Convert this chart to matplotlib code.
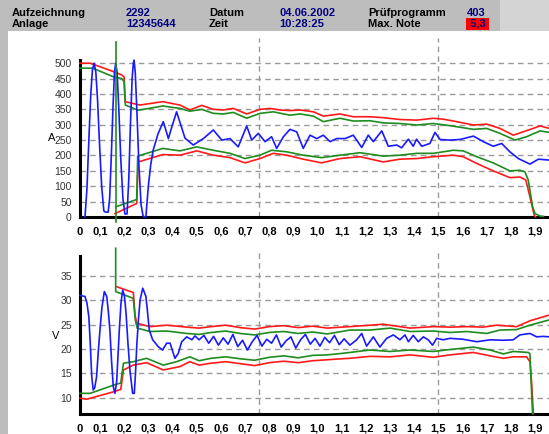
import matplotlib.pyplot as plt
from matplotlib.patches import Rectangle

plt.rcParams['font.family'] = ['Liberation Sans', 'DejaVu Sans']

# Kopfzeile
head_keys = [['Aufzeichnung', 'Anlage'], ['Datum', 'Zeit'], ['Prüfprogramm', 'Max. Note']]
head_vals = [['2292', '12345644'], ['04.06.2002', '10:28:25'], ['403', '5,3']]

# Strom (A)
a_blue_x = [0.038, 0.046, 0.054, 0.062, 0.069, 0.076, 0.083, 0.09, 0.098, 0.107, 0.116, 0.122, 0.134,
            0.14, 0.147, 0.154, 0.16, 0.165, 0.171, 0.178, 0.186, 0.195, 0.203, 0.212, 0.219, 0.226,
            0.233, 0.238, 0.241, 0.246, 0.253, 0.261, 0.27, 0.278, 0.282, 0.29, 0.3, 0.31, 0.32, 0.34,
            0.362, 0.383, 0.4, 0.417, 0.43, 0.452, 0.486, 0.528, 0.569, 0.604, 0.638, 0.672, 0.707,
            0.728, 0.755, 0.783, 0.81, 0.831, 0.859, 0.886, 0.914, 0.941, 0.969, 0.997, 1.024, 1.052,
            1.079, 1.114, 1.148, 1.183, 1.21, 1.231, 1.266, 1.293, 1.328, 1.348, 1.376, 1.396, 1.41,
            1.431, 1.465, 1.486, 1.507, 1.548, 1.589, 1.645, 1.686, 1.727, 1.762, 1.796, 1.831, 1.879,
            1.914, 1.96]
a_blue_y = [0, 90, 250, 400, 480, 500, 470, 380, 240, 100, 20, 16, 16,
            60, 200, 360, 470, 500, 470, 350, 190, 60, 10, 10, 120, 300,
            450, 500, 510, 470, 340, 170, 40, 5, 0, 0, 100, 170, 217, 270,
            310, 255, 300, 342, 310, 256, 234, 255, 283, 250, 255, 228, 296,
            250, 272, 245, 261, 223, 261, 285, 277, 223, 266, 255, 266, 245,
            255, 255, 266, 226, 266, 245, 280, 230, 234, 225, 253, 230, 253,
            230, 239, 275, 252, 250, 252, 263, 245, 230, 239, 212, 190, 172,
            188, 185]

a_red_hi_x = [0.017, 0.06, 0.155, 0.19, 0.2, 0.204, 0.265, 0.36, 0.431, 0.472, 0.521, 0.569, 0.61,
              0.652, 0.707, 0.762, 0.803, 0.845, 0.886, 0.928, 0.983, 1.024, 1.093, 1.148, 1.217,
              1.272, 1.341, 1.41, 1.479, 1.521, 1.576, 1.645, 1.7, 1.755, 1.81, 1.851, 1.921, 1.96]
a_red_hi_y = [500, 500, 473, 462, 455, 375, 364, 375, 364, 348, 363, 350, 348,
              353, 335, 350, 353, 348, 346, 348, 342, 328, 335, 326, 326,
              323, 317, 315, 321, 318, 310, 299, 302, 288, 266, 277, 296, 288]

a_green_hi_x = [0.017, 0.07, 0.155, 0.19, 0.2, 0.205, 0.258, 0.36, 0.431, 0.472, 0.521, 0.569, 0.61,
                0.652, 0.707, 0.762, 0.817, 0.886, 0.928, 0.983, 1.024, 1.093, 1.148, 1.217, 1.272,
                1.341, 1.41, 1.479, 1.548, 1.645, 1.7, 1.755, 1.817, 1.865, 1.921, 1.96]
a_green_hi_y = [484, 484, 456, 450, 440, 364, 347, 361, 353, 344, 350, 337, 335,
                340, 321, 337, 342, 331, 335, 328, 310, 321, 312, 313, 306,
                304, 299, 304, 297, 285, 288, 272, 250, 261, 280, 275]

a_green_lo_x = [0.165, 0.252, 0.256, 0.36, 0.431, 0.5, 0.569, 0.638, 0.7, 0.762, 0.81, 0.872, 0.941,
                1.017, 1.093, 1.176, 1.272, 1.341, 1.41, 1.479, 1.562, 1.603, 1.659, 1.727, 1.796,
                1.838, 1.858, 1.872, 1.89, 1.9, 1.921, 1.935]
a_green_lo_y = [33, 57, 198, 223, 215, 228, 217, 207, 190, 201, 217, 212, 201,
                193, 201, 209, 198, 201, 207, 207, 217, 215, 196, 176, 150,
                152, 147, 120, 33, 11, 3, 2]

a_red_lo_x = [0.162, 0.252, 0.258, 0.36, 0.431, 0.5, 0.569, 0.638, 0.7, 0.762, 0.817, 0.872, 0.941,
              1.017, 1.093, 1.176, 1.272, 1.341, 1.41, 1.479, 1.562, 1.603, 1.659, 1.727, 1.796,
              1.838, 1.862, 1.879, 1.897, 1.902]
a_red_lo_y = [11, 44, 179, 203, 201, 215, 201, 193, 176, 190, 207, 201, 188,
              176, 190, 196, 179, 188, 190, 196, 201, 196, 174, 150, 128,
              130, 120, 65, 5, 0]

a_trig_x = [0.165, 0.165]
a_trig_y = [-15, 569]

# Spannung (V)
v_blue_x = [0.018, 0.038, 0.046, 0.054, 0.06, 0.066, 0.072, 0.078, 0.086, 0.093, 0.1, 0.108, 0.118,
            0.128, 0.135, 0.141, 0.148, 0.155, 0.162, 0.169, 0.175, 0.18, 0.187, 0.194, 0.201, 0.208,
            0.216, 0.224, 0.235, 0.242, 0.247, 0.252, 0.259, 0.266, 0.277, 0.29, 0.297, 0.304, 0.318,
            0.341, 0.359, 0.376, 0.39, 0.41, 0.424, 0.438, 0.459, 0.48, 0.493,
            0.51, 0.53, 0.55, 0.57, 0.59, 0.61, 0.63, 0.65, 0.67, 0.69, 0.71, 0.73, 0.75, 0.77, 0.79,
            0.81, 0.83, 0.85, 0.87, 0.89, 0.91, 0.93, 0.95, 0.97, 0.99, 1.01, 1.03, 1.05, 1.07, 1.09,
            1.11, 1.134, 1.162, 1.183, 1.203, 1.231, 1.258, 1.286, 1.314, 1.341, 1.362, 1.376, 1.396,
            1.417, 1.438, 1.458, 1.476, 1.493, 1.52, 1.548, 1.603, 1.659, 1.714, 1.769, 1.81, 1.837,
            1.879, 1.907, 1.934, 1.96]
v_blue_y = [31.0, 30.8, 29.5, 26.6, 21.0, 14.3, 11.6, 12.0, 14.3, 19.5, 23.9, 28.5, 31.8,
            30.8, 27.5, 23.9, 17.5, 12.3, 10.9, 13.3, 19.0, 23.9, 29.5, 32.1, 31.0, 27.3,
            21.0, 15.7, 10.9, 10.9, 15.0, 20.5, 26.0, 30.1, 32.5, 30.8, 27.5, 23.9, 21.9,
            20.5, 19.8, 21.2, 21.2, 18.1, 19.1, 21.5, 22.5, 21.9, 22.7,
            21.9, 22.8, 21.2, 22.6, 20.8, 22.3, 21.0, 23.0, 20.5, 21.8, 19.8, 21.5, 22.8, 20.6, 22.0,
            21.2, 22.9, 20.4, 21.7, 22.5, 20.2, 21.9, 23.0, 21.0, 22.2, 20.6, 22.4, 21.3, 22.8, 20.9,
            22.1, 20.8, 21.9, 23.2, 20.6, 22.5, 20.4, 22.2, 22.9, 21.9, 22.9, 21.5, 22.8,
            21.5, 22.5, 21.9, 20.8, 22.2, 21.9, 22.2, 22.0, 21.5, 21.9, 21.8, 21.9, 22.9,
            23.2, 22.5, 22.6, 22.5]

v_red_hi_x = [0.169, 0.238, 0.245, 0.252, 0.307, 0.376, 0.459, 0.51, 0.56, 0.62, 0.68, 0.74, 0.8,
              0.86, 0.92, 0.98, 1.04, 1.1, 1.134, 1.217, 1.272, 1.383, 1.479, 1.548, 1.617, 1.686,
              1.741, 1.824, 1.879, 1.96]
v_red_hi_y = [32.8, 31.6, 27.0, 25.3, 24.6, 24.9, 24.5, 24.3, 24.6, 24.9, 24.4, 24.1, 24.6,
              24.8, 24.4, 24.7, 24.3, 24.5, 24.6, 24.9, 25.1, 24.3, 24.6, 24.5, 24.6, 24.5,
              24.9, 24.6, 25.8, 27.0]

v_green_hi_x = [0.165, 0.165, 0.238, 0.246, 0.254, 0.307, 0.376, 0.459, 0.51, 0.56, 0.62, 0.68,
                0.74, 0.8, 0.86, 0.92, 0.98, 1.04, 1.1, 1.134, 1.217, 1.3, 1.383, 1.479, 1.548,
                1.617, 1.7, 1.755, 1.824, 1.879, 1.96]
v_green_hi_y = [40.7, 31.8, 30.4, 26.0, 24.3, 23.6, 23.7, 23.2, 23.0, 23.4, 23.7, 23.2,
                22.9, 23.4, 23.6, 23.2, 23.5, 23.1, 23.6, 23.9, 23.9, 24.3, 23.6, 23.7, 23.4,
                23.6, 23.2, 23.9, 24.0, 24.9, 26.0]

v_green_lo_x = [0.018, 0.059, 0.169, 0.186, 0.197, 0.238, 0.293, 0.362, 0.417, 0.472, 0.51, 0.56,
                0.62, 0.68, 0.74, 0.8, 0.86, 0.92, 0.98, 1.04, 1.1, 1.134, 1.217, 1.3, 1.383,
                1.479, 1.548, 1.645, 1.714, 1.769, 1.81, 1.872, 1.879, 1.884, 1.89]
v_green_lo_y = [10.9, 10.9, 12.8, 13.0, 17.1, 17.4, 18.1, 16.7, 17.4, 18.4, 17.6, 18.1,
                18.4, 18.0, 17.7, 18.3, 18.6, 18.2, 18.7, 18.8, 19.1, 19.3, 19.8, 19.5, 19.8,
                19.5, 19.9, 20.4, 19.8, 19.0, 19.5, 19.3, 19.0, 13.0, 6.7]

v_red_lo_x = [0.018, 0.045, 0.155, 0.186, 0.197, 0.238, 0.293, 0.362, 0.431, 0.472, 0.51, 0.56,
              0.62, 0.68, 0.74, 0.8, 0.86, 0.92, 0.98, 1.04, 1.1, 1.134, 1.217, 1.3, 1.383,
              1.479, 1.548, 1.645, 1.714, 1.769, 1.81, 1.865, 1.879, 1.886, 1.893]
v_red_lo_y = [9.9, 9.7, 11.2, 11.7, 15.7, 16.7, 17.2, 15.7, 16.4, 17.4, 16.7, 17.1,
              17.4, 17.0, 16.6, 17.2, 17.5, 17.2, 17.6, 17.8, 18.0, 18.1, 18.5, 18.4, 18.8,
              18.3, 18.8, 19.3, 18.6, 18.1, 18.4, 18.4, 17.4, 13.0, 6.7]

markers = [0.76, 1.5]
x_ticks = [0.1 * k for k in range(1, 20)]

W, H = 549, 434
fig = plt.figure(figsize=(W / 100, H / 100), dpi=100)
fig.patch.set_facecolor('white')

# grauer Rahmen oben und links
fig.patches.append(Rectangle((0, 1 - 31 / H), 1, 31 / H, transform=fig.transFigure,
                             facecolor='#bdbdbd', edgecolor='none', zorder=0))
fig.patches.append(Rectangle((500 / W, 1 - 31 / H), 49 / W, 31 / H, transform=fig.transFigure,
                             facecolor='#d4d4d4', edgecolor='none', zorder=0))
fig.patches.append(Rectangle((0, 0), 8 / W, 1 - 31 / H, transform=fig.transFigure,
                             facecolor='#bdbdbd', edgecolor='none', zorder=0))

key_x = [12, 209, 368]
val_x = [126, 279, 467]
row_y = [12.5, 24]
for col in range(3):
    for row in range(2):
        fig.text(key_x[col] / W, 1 - row_y[row] / H, head_keys[col][row], fontsize=8,
                 fontweight='bold', color='black', va='center', ha='left')
        val = head_vals[col][row]
        if val == '5,3':
            fig.text(val_x[col] / W, 1 - row_y[row] / H, ' ' + val + ' ', fontsize=8,
                     fontweight='bold', color='#000080', va='center', ha='left',
                     bbox=dict(facecolor='#ff0000', edgecolor='none', pad=0.4))
        else:
            fig.text(val_x[col] / W, 1 - row_y[row] / H, val, fontsize=8,
                     fontweight='bold', color='#000080', va='center', ha='left')


def setup_axes(ax, ylim, yticks, spine_top, ylabel, label_y):
    x0 = (80 - 75.8) / 241.7
    x1 = (549 - 75.8) / 241.7
    ax.set_xlim(x0, x1)
    ax.set_ylim(*ylim)
    for s in ['top', 'right']:
        ax.spines[s].set_visible(False)
    ax.spines['left'].set_linewidth(2.2)
    ax.spines['bottom'].set_linewidth(2.2)
    ax.spines['left'].set_bounds(ylim[0], spine_top)
    ax.set_yticks(yticks)
    ax.set_yticklabels([str(t) for t in yticks], fontsize=7.5, color='#333333')
    ax.set_xticks([x0] + x_ticks)
    ax.set_xticklabels(['0'] + [('%.1f' % t).replace('.', ',') for t in x_ticks],
                       fontsize=8, fontweight='bold')
    ax.tick_params(axis='y', length=0, pad=6)
    ax.tick_params(axis='x', length=0, pad=7)
    for t in yticks:
        ax.axhline(t, color='#9a9a9a', lw=1, ls=(0, (4, 3)), zorder=1)
    for m in markers:
        ax.axvline(m, color='#9a9a9a', lw=1, ls=(0, (4, 3)), zorder=1)
    ax.set_facecolor('none')
    fig.text(label_y[0] / W, 1 - label_y[1] / H, ylabel, fontsize=8, ha='center', va='center')


ax1 = fig.add_axes([80 / W, (H - 217) / H, 469 / W, (217 - 38) / H])
setup_axes(ax1, (0, 582), list(range(0, 501, 50)), 510, 'A', (52, 138))
kw = dict(lw=1.2, clip_on=False, solid_joinstyle='round')
ax1.plot(a_red_hi_x, a_red_hi_y, color='#ff1a1a', zorder=3, **kw)
ax1.plot(a_red_lo_x, a_red_lo_y, color='#ff1a1a', zorder=3, **kw)
ax1.plot(a_green_hi_x, a_green_hi_y, color='#1e8c1e', zorder=4, **kw)
ax1.plot(a_green_lo_x, a_green_lo_y, color='#1e8c1e', zorder=4, **kw)
ax1.plot(a_blue_x, a_blue_y, color='#1a1aff', zorder=5, **kw)
ax1.plot(a_trig_x, a_trig_y, color='#1e8c1e', zorder=6, **kw)

ax2 = fig.add_axes([80 / W, (H - 414) / H, 469 / W, (414 - 250) / H])
setup_axes(ax2, (6.66, 40.34), list(range(10, 36, 5)), 39.1, 'V', (56, 336))
ax2.plot(v_red_hi_x, v_red_hi_y, color='#ff1a1a', zorder=3, **kw)
ax2.plot(v_red_lo_x, v_red_lo_y, color='#ff1a1a', zorder=3, **kw)
ax2.plot(v_green_hi_x, v_green_hi_y, color='#1e8c1e', zorder=4, **kw)
ax2.plot(v_green_lo_x, v_green_lo_y, color='#1e8c1e', zorder=4, **kw)
ax2.plot(v_blue_x, v_blue_y, color='#1a1aff', zorder=5, **kw)

fig.savefig('out.png', dpi=100)
